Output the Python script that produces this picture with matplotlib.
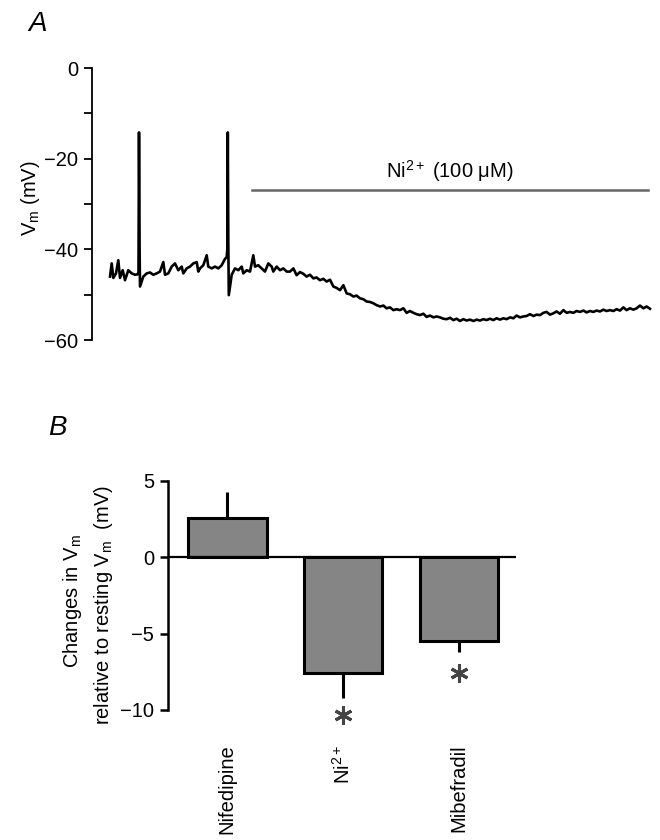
import matplotlib
matplotlib.use("Agg")
import matplotlib.pyplot as plt

plt.rcParams["font.family"] = ["Liberation Sans", "DejaVu Sans"]
plt.rcParams["mathtext.fontset"] = "custom"
plt.rcParams["mathtext.rm"] = "Liberation Sans"
plt.rcParams["mathtext.it"] = "Liberation Sans:italic"

# ── Panel A: membrane potential trace (time in s, Vm in mV) ─────────────────
trace_t_early = [0.0, 0.85, 1.65, 3.0, 4.15, 5.0, 6.35, 7.5, 9.15, 10.85, 12.5, 13.85,
                 14.25, 14.5, 14.8, 15.0,
                 16.65, 18.35, 20.0, 21.65, 23.35, 25.0, 26.65, 27.5, 29.15, 30.85,
                 32.5, 34.15, 35.85, 36.65, 38.35, 40.0, 41.65, 43.35, 44.15, 45.0,
                 46.65, 48.35, 49.15, 50.85, 52.5, 54.15, 55.85, 57.5, 58.35,
                 58.65, 58.9, 59.15, 59.4,
                 60.85, 62.5, 64.15, 65.85, 66.65, 68.35, 70.0, 71.65, 72.5, 74.15,
                 75.85, 77.5, 79.15, 80.85, 81.65, 83.35, 85.0, 86.65, 88.35, 90.0]
trace_v_early = [-46.0, -43.1, -46.3, -45.3, -42.4, -46.3, -44.6, -46.8, -44.6, -45.3, -45.6, -45.5,
                 -45.0, -14.2, -40.0, -48.2,
                 -46.0, -45.3, -45.1, -45.6, -45.3, -44.9, -42.8, -45.6, -45.3, -43.8,
                 -43.1, -44.6, -43.8, -45.3, -44.2, -43.8, -43.1, -42.8, -44.9, -44.2,
                 -43.5, -41.3, -43.8, -44.2, -43.8, -44.2, -43.5, -42.1, -41.7,
                 -40.0, -14.2, -38.0, -50.1,
                 -45.6, -44.2, -44.6, -43.8, -45.3, -44.6, -44.9, -41.3, -43.8, -43.5,
                 -44.2, -44.9, -43.1, -43.8, -44.9, -43.8, -44.6, -44.2, -44.9, -44.9]

trace_t_late = [91.7, 93.3, 95.0, 96.7, 98.3, 100.0, 101.7, 103.3, 105.0, 106.7, 108.3, 110.0,
                111.7, 113.3, 115.0, 116.7, 118.3, 120.0, 121.7, 123.3, 125.0, 126.7, 128.3, 130.0,
                131.7, 133.3, 135.0, 136.7, 138.3, 140.0, 141.7, 143.3, 145.0, 146.7, 148.3, 150.0,
                151.7, 153.3, 155.0, 156.7, 158.3, 160.0, 161.7, 163.3, 165.0, 166.7, 168.3, 170.0,
                171.7, 173.3, 175.0, 176.7, 178.3, 180.0, 181.7, 183.3, 185.0, 186.7, 188.3, 190.0,
                191.7, 193.3, 195.0, 196.7, 198.3, 200.0, 201.7, 203.3, 205.0, 206.7, 208.3, 210.0,
                211.7, 213.3, 215.0, 216.7, 218.3, 220.0, 221.7, 223.3, 225.0, 226.7, 228.3, 230.0,
                231.7, 233.3, 235.0, 236.7, 238.3, 240.0, 241.7, 243.3, 245.0, 246.7, 248.3, 250.0,
                251.7, 253.3, 255.0, 256.7, 258.3, 260.0, 261.7, 263.3, 265.0, 266.7, 268.3, 270.0]
trace_v_late = [-44.2, -45.7, -45.0, -45.4, -46.0, -45.6, -46.4, -46.2, -46.8, -46.5,
                -47.1, -46.7, -48.2, -48.5, -49.0, -47.9, -49.7, -49.9, -50.4, -50.2,
                -50.8, -51.0, -51.5, -51.6, -51.9, -52.3, -52.6, -52.4, -53.0, -52.8,
                -53.4, -53.2, -53.4, -53.0, -54.0, -53.6, -54.0, -54.3, -54.5, -54.2,
                -54.9, -54.6, -55.0, -54.8, -55.0, -55.3, -55.4, -55.1, -55.6, -55.3,
                -55.8, -55.4, -55.7,
                -55.5, -55.8, -55.5, -55.7, -55.4, -55.6, -55.3, -55.6, -55.2, -55.5,
                -55.2, -55.4, -55.0, -55.2, -54.6, -55.0, -54.8, -54.7, -54.3, -54.7,
                -54.4, -54.5, -54.0, -53.8, -54.4, -54.1, -53.7, -54.2, -53.4, -54.0,
                -53.8, -54.0, -53.6, -53.8, -53.5, -53.9, -53.6, -53.8, -53.5, -53.7,
                -53.3, -53.6, -53.4, -53.6, -53.2, -53.5, -52.8, -53.4, -53.0, -53.3,
                -53.0, -52.4, -53.0, -52.6, -53.1]

ni_start, ni_end = 71.0, 269.0     # s, application of Ni2+
ni_level = -27.0                   # mV, height of the bar

# ── Panel B: mean change in Vm ───────────────────────────────────────────────
drugs = ["Nifedipine", "Ni$^{2+}$", "Mibefradil"]
delta_vm = [2.6, -7.6, -5.5]
sem = [1.7, 1.6, 0.7]
significant = [False, True, True]
star_y = [None, -10.3, -7.6]

fig = plt.figure(figsize=(6.6, 8.4), dpi=100)

# ── Plot A ──
axA = fig.add_axes([0.1394, 0.5952, 0.853, 0.3238])
axA.plot(trace_t_early + trace_t_late, trace_v_early + trace_v_late,
         color="black", linewidth=1.9)
axA.plot([ni_start, ni_end], [ni_level, ni_level], color="#666666", linewidth=1.8)
axA.text((ni_start + ni_end) / 2, ni_level + 4.2, "Ni$^{2+}$ (100 \u03bcM)",
         ha="center", va="center", fontsize=14.5)
axA.set_xlim(-9, 272.5)
axA.set_ylim(-60, 0)
axA.set_yticks([0, -20, -40, -60])
axA.set_yticklabels(["0", "\u221220", "\u221240", "\u221260"])
axA.set_yticks([-10, -30, -50], minor=True)
axA.tick_params(axis="y", which="both", length=6, width=1.3, labelsize=14.5, pad=4)
axA.set_xticks([])
for s in ["top", "right", "bottom"]:
    axA.spines[s].set_visible(False)
axA.spines["left"].set_linewidth(1.3)
fig.text(30 / 660, 1 - 198 / 840, "V$_{\\rm m}$ (mV)", rotation=90,
         ha="center", va="center", fontsize=14.5)
fig.text(28 / 660, 1 - 24 / 840, "A", fontsize=20, style="italic",
         ha="left", va="center")

# ── Plot B ──
axB = fig.add_axes([0.2545, 0.1548, 0.527, 0.2726])
xs = range(len(drugs))
axB.bar(xs, delta_vm, width=0.68, color="#858585", edgecolor="black",
        linewidth=2.2, zorder=2)
for i, (v, e) in enumerate(zip(delta_vm, sem)):
    edge = v + e if v > 0 else v - e
    axB.plot([i, i], [v, edge], color="black", linewidth=2.2, zorder=1,
             solid_capstyle="butt")
    if significant[i]:
        axB.plot(i, star_y[i], marker=(6, 2, 0), markersize=13,
                 markeredgewidth=2.2, color="#444444", clip_on=False)
axB.axhline(0, color="black", linewidth=1.6, zorder=3)
axB.set_xlim(-0.51, 2.49)
axB.set_ylim(-10, 5)
axB.set_yticks([5, 0, -5, -10])
axB.set_yticklabels(["5", "0", "\u22125", "\u221210"])
axB.tick_params(axis="y", length=6, width=1.8, labelsize=14.5, pad=4)
axB.set_xticks(list(xs))
axB.set_xticklabels(drugs, rotation=90, fontsize=14.5, va="top")
axB.tick_params(axis="x", length=0, pad=25)
for s in ["top", "right", "bottom"]:
    axB.spines[s].set_visible(False)
axB.spines["left"].set_linewidth(1.8)
fig.text(73 / 660, 1 - 601 / 840, "Changes in V$_{\\rm m}$", rotation=90,
         ha="center", va="center", fontsize=14.5)
fig.text(104 / 660, 1 - 605 / 840, "relative to resting V$_{\\rm m}$  (mV)",
         rotation=90, ha="center", va="center", fontsize=14.5)
fig.text(48 / 660, 1 - 428 / 840, "B", fontsize=20, style="italic",
         ha="left", va="center")

plt.savefig("out.png", dpi=100)
